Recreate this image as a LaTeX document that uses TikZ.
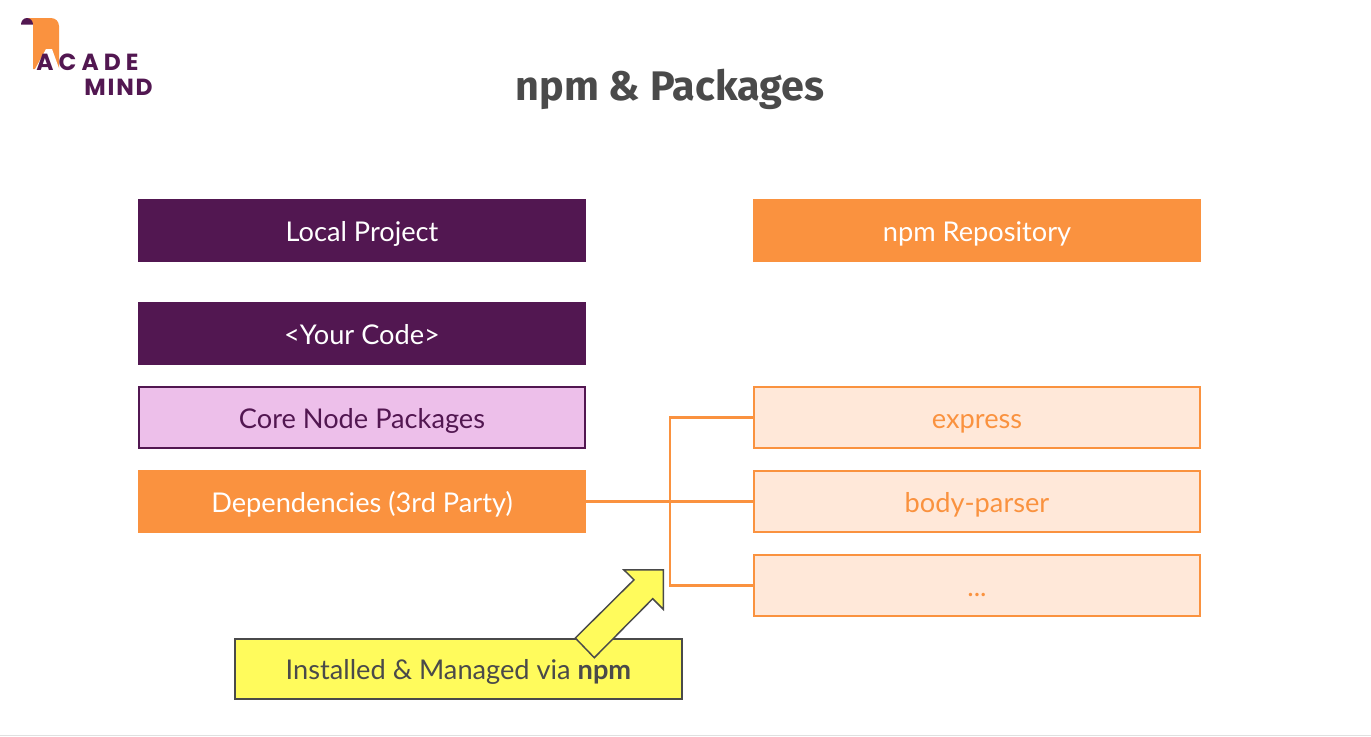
\documentclass[tikz,border=0pt]{standalone}
\usepackage{fontspec}
\setmainfont{Lato}
\newfontfamily\titlefont{Fira Sans}
\newfontfamily\logofont[LetterSpace=22]{Poppins}
\newfontfamily\logotightfont[LetterSpace=8]{Poppins}
\definecolor{purpleacad}{HTML}{521751}
\definecolor{orangeacad}{HTML}{FA923F}
\definecolor{pinkacad}{HTML}{EDBFEA}
\definecolor{peachacad}{HTML}{FFE8D9}
\definecolor{yellowacad}{HTML}{FFFB5C}
\definecolor{greyacad}{HTML}{4A4A4A}

\begin{document}
\begin{tikzpicture}[
    x=0.75pt, y=-0.75pt,
    box/.style={minimum width=335pt, minimum height=46.2pt, inner sep=0pt, outer sep=0pt,
        line width=1.5pt, font=\fontsize{20.4}{24}\selectfont, text height=19pt, text depth=2.75pt},
    darkbox/.style={box, fill=purpleacad, draw=purpleacad, text=white},
    corebox/.style={box, fill=pinkacad, draw=purpleacad, text=purpleacad},
    solidbox/.style={box, fill=orangeacad, draw=orangeacad, text=white},
    lightbox/.style={box, fill=peachacad, draw=orangeacad, text=orangeacad},
    notebox/.style={box, fill=yellowacad, draw=greyacad, text=greyacad},
    link/.style={orangeacad, line width=1.7pt},
    logotext/.style={text=purpleacad, inner sep=0pt}
]

% Canvas
\useasboundingbox (0,0) rectangle (1371,736);
\fill[black!12] (0,735) rectangle (1371,736);

% Logo
\fill[orangeacad] (27,18) -- (51,18) to[out=0, in=90] (59,26) -- (59,69) -- (33,69) -- (33,24) -- cycle;
\fill[purpleacad] (21,24.5) to[out=90, in=180] (27,18) to[out=0, in=90] (33,24.5) -- cycle;
\fill[white] (34,71) -- (46,49) -- (52,49) -- (60,71) -- cycle;
\node[logotext, font=\logofont\bfseries\fontsize{17.5}{18}\selectfont, anchor=base west] (acade) at (36,70) {ACADE};
\node[logotext, font=\logotightfont\bfseries\fontsize{17.5}{18}\selectfont, anchor=base west] (mind) at (84,95) {MIND};

% Title
\node[font=\titlefont\bfseries\fontsize{31}{36}\selectfont, text=greyacad] (title) at (670,89) {npm \& Packages};

% Left column
\node[darkbox] (local) at (362,230.5) {Local Project};
\node[darkbox] (code) at (362,333.5) {<Your Code>};
\node[corebox] (core) at (362,417.5) {Core Node Packages};
\node[solidbox] (deps) at (362,501.5) {Dependencies (3rd Party)};

% Right column
\node[solidbox] (repo) at (977,230.5) {npm Repository};
\node[lightbox] (express) at (977,417.5) {express};
\node[lightbox] (bodyparser) at (977,501.5) {body-parser};
\node[lightbox] (dots) at (977,585.5) {...};

% Connectors
\coordinate (branch) at (670,501.5);
\draw[link, line width=2.25pt] (deps.east) -- (branch);
\draw[link] (branch) -- (bodyparser.west);
\draw[link] (express.west) -| (branch);
\draw[link] (dots.west) -| (branch);

% Note with its arrow
\node[notebox, minimum width=334.6pt, minimum height=45.6pt] (note) at (458.5,669) {Installed \& Managed via \textbf{npm}};
\draw[fill=yellowacad, draw=greyacad, line width=1.1pt] (663.3,569.8) -- (663.3,609.3) -- (652.7,598.7)
    -- (594.3,657.7) -- (575.3,638) -- (634,579.8) -- (623.8,569.8) -- cycle;

\end{tikzpicture}
\end{document}
